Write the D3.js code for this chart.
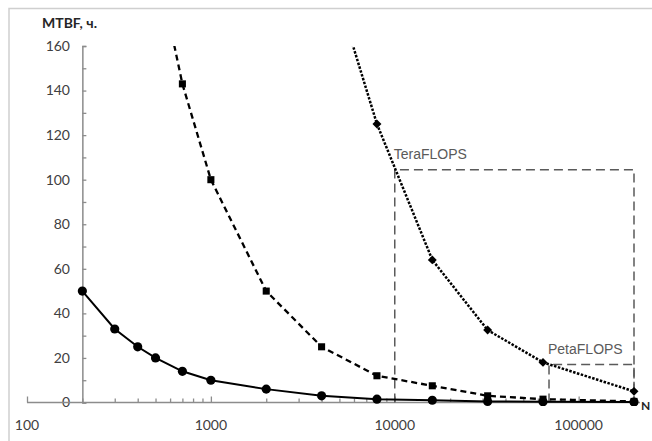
<!DOCTYPE html>
<html><head><meta charset="utf-8">
<script src="https://cdn.jsdelivr.net/npm/d3@7"></script>
<style>body{margin:0;background:#fff}svg{display:block}</style>
</head><body>
<script>
// ---- data ----
const xTickLabels = [100, 1000, 10000, 100000];
const yTickLabels = [0, 20, 40, 60, 80, 100, 120, 140, 160];
const seriesCirclesN = [200, 300, 400, 500, 700, 1000, 2000, 4000, 8000, 16000, 32000, 64000, 200000];
const seriesCirclesV = [50, 33, 25, 20, 14, 10, 6, 3, 1.5, 1, 0.5, 0.3, 0.2];
const seriesSquaresN = [500, 700, 1000, 2000, 4000, 8000, 16000, 32000, 64000, 200000];
const seriesSquaresV = [200, 143, 100, 50, 25, 12, 7.5, 3, 1.5, 0.5];
const seriesDiamondsN = [5000, 8000, 16000, 32000, 64000, 200000];
const seriesDiamondsV = [180, 125, 64, 32.5, 18, 5];
const teraBox = {n0: 10000, n1: 200000, v: 104.5, label: "TeraFLOPS"};
const petaBox = {n0: 69000, n1: 200000, v: 17, label: "PetaFLOPS"};
const yTitle = "MTBF, ч.";
const xTitle = "N";

const W = 652, H = 441;
const svg = d3.select("body").append("svg").attr("width", W).attr("height", H);
const x = d3.scaleLog().domain([100, 200000]).range([27, 634]);
const y = d3.scaleLinear().domain([0, 160]).range([402.5, 46]);
const axisCol = "#8c8c8c", textCol = "#404040", refCol = "#5a5a5a";
const font = "Lato, 'Open Sans', sans-serif";

// outer frame
svg.append("rect").attr("x", 9).attr("y", 8.5).attr("width", 800).attr("height", 600)
  .attr("fill", "none").attr("stroke", "#cfcfcf").attr("stroke-width", 1.5);

svg.append("defs").append("clipPath").attr("id", "plot")
  .append("rect").attr("x", 20).attr("y", 46).attr("width", 625).attr("height", 360);

// y axis (positioned at N=200)
const yAxis = d3.axisRight(y).tickValues(d3.range(0, 161, 10)).tickSize(4).tickFormat("");
const gy = svg.append("g").attr("transform", `translate(${x(200)},0)`).call(yAxis);
gy.select(".domain").attr("stroke", axisCol).attr("stroke-width", 1.5);
gy.selectAll(".tick line").attr("stroke", axisCol).attr("stroke-width", 1.3);
svg.append("g").selectAll("text").data(yTickLabels).join("text")
  .attr("x", 70).attr("y", d => y(d)).attr("dy", "0.35em").attr("text-anchor", "end")
  .attr("font-family", font).attr("font-size", 14).attr("fill", textCol).text(d => d);

// x axis
const minorX = [];
[100, 1000, 10000, 100000].forEach(d => { for (let k = 1; k < 10; k++) { const v = d * k; if (v <= 200000) minorX.push(v); } });
const xAxis = d3.axisTop(x).tickValues(minorX).tickSize(4).tickFormat("").tickSizeOuter(0);
const gx = svg.append("g").attr("transform", `translate(0,${y(0)})`).call(xAxis);
gx.select(".domain").attr("stroke", axisCol).attr("stroke-width", 1.5)
  .attr("d", `M${x(100)},0H${x(200000) + 6}`);
gx.selectAll(".tick line").attr("stroke", axisCol).attr("stroke-width", 1.3)
  .attr("y2", d => xTickLabels.includes(d) ? -6 : -4);
svg.append("g").selectAll("text").data(xTickLabels).join("text")
  .attr("x", d => x(d)).attr("y", 430).attr("text-anchor", "middle")
  .attr("font-family", font).attr("font-size", 14).attr("fill", textCol).text(d => d);

// axis titles
svg.append("text").attr("x", 42).attr("y", 28).attr("font-family", font).attr("font-weight", "bold")
  .attr("font-size", 14).attr("fill", "#262626").text(yTitle);
svg.append("text").attr("x", 641).attr("y", 410).attr("font-family", font).attr("font-weight", "bold")
  .attr("font-size", 12).attr("fill", "#262626").text(xTitle);

// reference boxes
[teraBox, petaBox].forEach(b => {
  svg.append("path")
    .attr("d", `M${x(b.n0)},${y(0)}V${y(b.v)}H${x(b.n1)}V${y(0)}`)
    .attr("fill", "none").attr("stroke", refCol).attr("stroke-width", 1.5).attr("stroke-dasharray", "9,5");
  svg.append("text").attr("x", x(b.n0) - 1).attr("y", y(b.v) - 11)
    .attr("font-family", "'Liberation Sans', Arial, sans-serif").attr("font-size", 14).attr("fill", refCol).text(b.label);
});

const line = d3.line().x(d => x(d[0])).y(d => y(d[1]));
const plot = svg.append("g").attr("clip-path", "url(#plot)");
function series(ns, vs, dash, width, marker, size, rot) {
  const pts = ns.map((n, i) => [n, vs[i]]);
  plot.append("path").datum(pts).attr("d", line).attr("fill", "none").attr("stroke", "#000")
    .attr("stroke-width", width).attr("stroke-dasharray", dash);
  const sym = d3.symbol().type(marker).size(size);
  plot.selectAll(null).data(pts.filter(p => p[1] <= 160)).join("path")
    .attr("transform", p => `translate(${x(p[0])},${y(p[1])}) rotate(${rot})`)
    .attr("d", sym).attr("fill", "#000");
}
series(seriesCirclesN, seriesCirclesV, null, 2, d3.symbolCircle, 66, 0);
series(seriesSquaresN, seriesSquaresV, "6,4", 2.3, d3.symbolSquare, 50, 0);
series(seriesDiamondsN, seriesDiamondsV, "2.5,1.5", 2.5, d3.symbolSquare, 40, 45);
</script>
</body></html>
